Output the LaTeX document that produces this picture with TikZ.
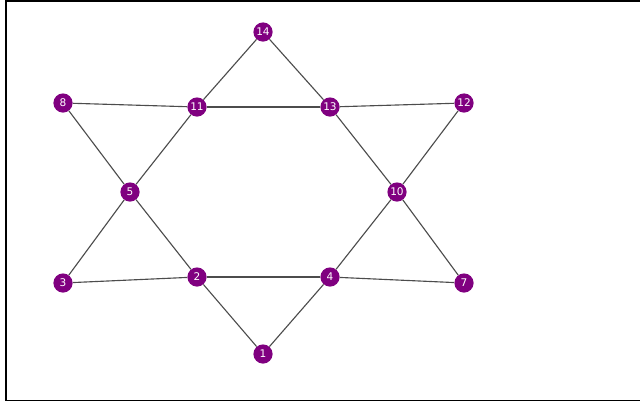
\documentclass[tikz,border=0pt]{standalone}
\usepackage{fontspec}
\setmainfont{DejaVu Sans}
\definecolor{vpurple}{RGB}{128,0,128}
\begin{document}
\begin{tikzpicture}[x=0.025cm,y=-0.025cm,
    vert/.style={circle, fill=vpurple, minimum size=0.48cm, inner sep=0pt, text=white, font=\fontsize{7.5}{8}\selectfont},
    edge/.style={draw=black!70, line width=0.8pt}
]
\useasboundingbox (0,0) rectangle (640,402);
% frame (right side falls outside the picture)
\draw[line width=1.4pt] (645,1) -- (6,1) -- (6,400.5) -- (645,400.5);
% vertices
\node[vert] (n14) at (263,32) {14};
\node[vert] (n8) at (63,103) {8};
\node[vert] (n11) at (197,107) {11};
\node[vert] (n13) at (330,107) {13};
\node[vert] (n12) at (464,103) {12};
\node[vert] (n5) at (130,192) {5};
\node[vert] (n10) at (397,192) {10};
\node[vert] (n3) at (63,283) {3};
\node[vert] (n2) at (197,277) {2};
\node[vert] (n4) at (330,277) {4};
\node[vert] (n7) at (464,283) {7};
\node[vert] (n1) at (263,354) {1};
% edges
\foreach \a/\b in {14/11,14/13,8/11,11/13,13/12,8/5,11/5,13/10,12/10,5/3,5/2,10/4,10/7,3/2,2/4,4/7,2/1,4/1}
  \draw[edge] (n\a) -- (n\b);
\end{tikzpicture}
\end{document}
